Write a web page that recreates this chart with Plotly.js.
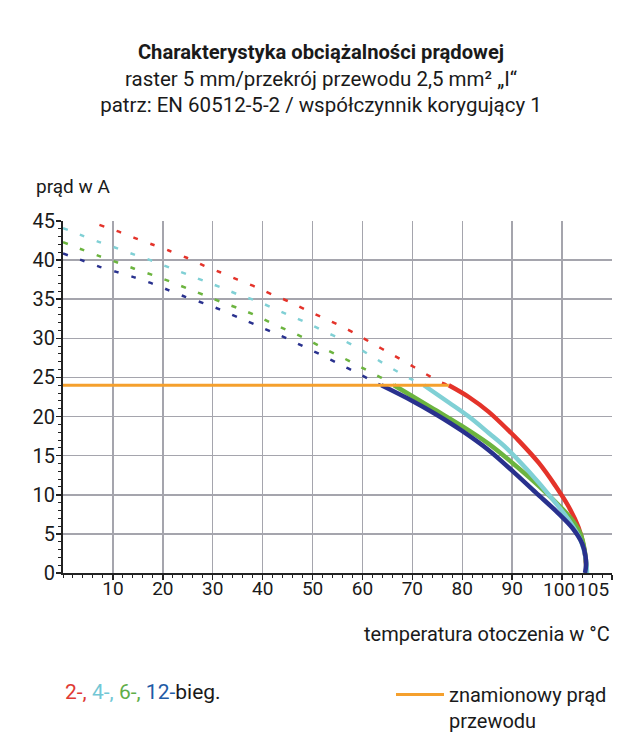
<!DOCTYPE html>
<html>
<head>
<meta charset="utf-8">
<script src="https://cdn.plot.ly/plotly-3.0.1.min.js"></script>
<style>html,body{margin:0;padding:0;background:#fff;}#chart{width:642px;height:754px;}</style>
</head>
<body>
<div id="chart"></div>
<script>
// ---- data ----
// rated conductor current (znamionowy prąd przewodu)
const ratedX = [0, 77.3];
const ratedY = [24, 24];

// 2-pole (red) – dashed part above rated current, solid part below
const red2DashX = [7.3, 10.9, 14.3, 17.9, 21.3, 24.8, 28.2, 31.5, 35.0, 38.5, 41.9, 45.3, 48.8, 52.2, 55.6, 58.9, 62.1, 65.5, 68.8, 72.0, 75.3, 77.3];
const red2DashY = [44.5, 43.7, 42.85, 42.0, 41.2, 40.3, 39.3, 38.45, 37.5, 36.6, 35.6, 34.7, 33.6, 32.6, 31.6, 30.5, 29.3, 28.1, 26.9, 25.7, 24.5, 24.0];
const red2X = [77.3, 81.3, 85.3, 89.3, 91.5, 95.3, 98.6, 101.3, 103.3, 104.3, 104.8, 104.9];
const red2Y = [24.0, 22.5, 20.6, 18.2, 16.8, 14.1, 11.2, 8.5, 5.8, 3.5, 1.2, 0];

// 4-pole (cyan)
const cyan4DashX = [0, 4.0, 7.3, 10.9, 14.3, 17.9, 21.3, 24.8, 28.2, 31.7, 35.1, 38.7, 42.0, 45.5, 48.8, 52.3, 55.7, 59.0, 62.4, 65.5, 68.8, 72.3];
const cyan4DashY = [44.1, 43.1, 42.3, 41.5, 40.7, 39.9, 39.05, 38.2, 37.35, 36.5, 35.6, 34.8, 33.9, 32.9, 32.0, 30.9, 29.9, 28.8, 27.5, 26.3, 25.1, 24.0];
const cyan4X = [72.3, 77.3, 81.3, 85.3, 88.8, 93.3, 98.0, 101.3, 103.7, 104.7, 105.0];
const cyan4Y = [24.0, 21.8, 20.0, 17.9, 16.0, 13.0, 9.5, 6.8, 4.2, 2.0, 0];

// 6-pole (green)
const green6DashX = [0, 4.0, 7.3, 10.9, 14.3, 17.9, 21.3, 24.8, 28.2, 31.5, 35.1, 38.7, 41.9, 45.3, 48.8, 52.0, 55.5, 58.9, 62.1, 65.2, 66.3];
const green6DashY = [42.3, 41.3, 40.5, 39.7, 38.9, 38.1, 37.3, 36.4, 35.55, 34.7, 33.85, 32.9, 31.9, 30.95, 29.9, 28.8, 27.7, 26.6, 25.5, 24.5, 24.0];
const green6X = [66.3, 70.0, 74.7, 79.9, 85.3, 90.0, 94.7, 99.3, 102.0, 103.7, 104.5, 104.8, 104.8];
const green6Y = [24.0, 22.6, 20.8, 18.8, 16.5, 14.1, 11.5, 8.7, 6.8, 5.0, 3.0, 1.2, 0];

// 12-pole (blue)
const blue12DashX = [0, 3.7, 7.1, 10.7, 14.3, 17.9, 21.0, 24.5, 28.1, 31.4, 35.0, 38.5, 41.9, 45.5, 48.7, 52.0, 55.4, 58.9, 62.1, 63.8];
const blue12DashY = [40.85, 40.0, 39.2, 38.5, 37.8, 37.0, 36.2, 35.3, 34.5, 33.7, 32.7, 31.75, 30.8, 29.8, 28.8, 27.8, 26.7, 25.6, 24.5, 24.0];
const blue12X = [63.8, 70.0, 74.7, 79.9, 85.3, 90.3, 94.7, 99.3, 102.0, 104.0, 104.7, 104.8, 104.6];
const blue12Y = [24.0, 22.0, 20.3, 18.2, 15.7, 12.9, 10.3, 7.6, 5.8, 3.8, 2.1, 1.0, 0];

// ticks
const yTicks = [0, 5, 10, 15, 20, 25, 30, 35, 40, 45];
const xTicks = [10, 20, 30, 40, 50, 60, 70, 80, 90, 100, 110];
const xTickText = ['10', '20', '30', '40', '50', '60', '70', '80', '90', '', ''];
const xTick100 = [100];
const xTick100Text = ['100'];
const xTick105 = [105];
const xTick105Text = ['105'];

// texts
const titleLines = ['Charakterystyka obciążalności prądowej', 'raster 5 mm/przekrój przewodu 2,5 mm² „I“', 'patrz: EN 60512-5-2 / współczynnik korygujący 1'];
const yTitle = 'prąd w A';
const xTitle = 'temperatura otoczenia w °C';
const ratedName = 'znamionowy prąd<br>przewodu';

// ---- styles ----
const FONT = "Roboto, 'Liberation Sans', sans-serif";
const C = {red: '#e4332a', cyan: '#80d0d5', green: '#6cb43f', blue: '#29318e', orange: '#f5a02d', grid: '#a5a5ad', axis: '#222222', text: '#1a1a1a'};
const SOLID_W = 4.5, DASH_W = 2.5, DASH = '5px,13px';
const TICK_FS = 19;

function dashTrace(x, y, color) {
  return {x, y, xaxis: 'x2', type: 'scatter', mode: 'lines', line: {color, width: DASH_W, dash: DASH, shape: 'spline', smoothing: 0.6}, showlegend: false, hoverinfo: 'skip'};
}
function solidTrace(x, y, color) {
  return {x, y, type: 'scatter', mode: 'lines', line: {color, width: SOLID_W, shape: 'spline', smoothing: 1}, showlegend: false, hoverinfo: 'skip'};
}

const traces = [
  solidTrace(red2X, red2Y, C.red),
  solidTrace(green6X, green6Y, C.green),
  solidTrace(cyan4X, cyan4Y, C.cyan),
  solidTrace(blue12X, blue12Y, C.blue),
  dashTrace(red2DashX, red2DashY, C.red),
  dashTrace(cyan4DashX, cyan4DashY, C.cyan),
  dashTrace(green6DashX, green6DashY, C.green),
  dashTrace(blue12DashX, blue12DashY, C.blue),
  {x: ratedX, y: ratedY, xaxis: 'x3', type: 'scatter', mode: 'lines', name: ratedName, line: {color: C.orange, width: 3}, showlegend: true, hoverinfo: 'skip'}
];

const overlayX = (vals, txt, shift, standoff) => ({
  overlaying: 'x', anchor: 'y', side: 'bottom', range: [0, 110],
  tickmode: 'array', tickvals: vals, ticktext: txt, tickangle: 0, ticklabelshift: shift, ticklabelstandoff: standoff,
  showgrid: false, zeroline: false, showline: false, ticks: '',
  tickfont: {family: FONT, size: TICK_FS, color: C.text}, fixedrange: true
});

const line = (t, s) => '<span style="font-size:' + s + 'px">' + t + '</span>';
const layout = {
  width: 642, height: 754,
  paper_bgcolor: '#ffffff', plot_bgcolor: '#ffffff',
  margin: {l: 63, r: 30, t: 221, b: 181, pad: 0, autoexpand: false},
  font: {family: FONT, color: C.text, size: 19},
  title: {
    text: '<b>' + line(titleLines[0], 20.2) + '</b><br>' + line(titleLines[1], 20.5) + '<br>' + line(titleLines[2], 20.5),
    font: {family: FONT, size: 20.5, color: C.text},
    x: 0.5, xref: 'container', xanchor: 'center',
    y: 1 - 59 / 754, yref: 'container', yanchor: 'top'
  },
  xaxis: {
    range: [0, 110], tickmode: 'array', tickvals: xTicks, ticktext: xTickText, tickangle: 0,
    showgrid: true, gridcolor: C.grid, gridwidth: 1.5, zeroline: false,
    showline: true, linecolor: C.axis, linewidth: 2,
    ticks: 'outside', ticklen: 5, tickwidth: 1.5, tickcolor: C.axis, ticklabelstandoff: -8,
    minor: {dtick: 2, ticks: 'outside', ticklen: 3, tickwidth: 1, tickcolor: C.axis, showgrid: false},
    tickfont: {family: FONT, size: TICK_FS, color: C.text}, fixedrange: true
  },
  xaxis2: overlayX(xTick105, xTick105Text, 6, 3),
  xaxis3: overlayX(xTick100, xTick100Text, -3, 3),
  yaxis: {
    range: [0, 45], tickmode: 'array', tickvals: yTicks,
    showgrid: true, gridcolor: C.grid, gridwidth: 1.5, zeroline: false,
    showline: true, linecolor: C.axis, linewidth: 2,
    ticks: 'outside', ticklen: 5, tickwidth: 1.5, tickcolor: C.axis, ticklabelstandoff: -3,
    minor: {dtick: 1, ticks: 'outside', ticklen: 3, tickwidth: 1, tickcolor: C.axis, showgrid: false},
    tickfont: {family: FONT, size: 20, color: C.text}, fixedrange: true
  },
  showlegend: true,
  legend: {
    x: (391 - 63) / 549, xanchor: 'left', y: (573 - 675) / 352, yanchor: 'top',
    bgcolor: 'rgba(0,0,0,0)', borderwidth: 0, valign: 'top', itemwidth: 48,
    font: {family: FONT, size: 20, color: C.text}
  },
  annotations: [
    {text: yTitle, xref: 'paper', yref: 'paper', x: (34 - 63) / 549, y: (573 - 187) / 352, xanchor: 'left', yanchor: 'middle', showarrow: false, font: {family: FONT, size: 19, color: C.text}},
    {text: xTitle, xref: 'paper', yref: 'paper', x: 1, y: (573 - 634) / 352, xanchor: 'right', yanchor: 'middle', showarrow: false, font: {family: FONT, size: 20, color: C.text}},
    {text: '<span style="color:#e03a34">2-, </span><span style="color:#72c7d5">4-, </span><span style="color:#5fae48">6-, </span><span style="color:#1f5ba6">12-</span>bieg.',
     xref: 'paper', yref: 'paper', x: 0, y: (573 - 692) / 352, xanchor: 'left', yanchor: 'middle', showarrow: false, font: {family: FONT, size: 21, color: C.text}}
  ]
};

Plotly.newPlot('chart', traces, layout, {displayModeBar: false, staticPlot: true});
</script>
</body>
</html>
